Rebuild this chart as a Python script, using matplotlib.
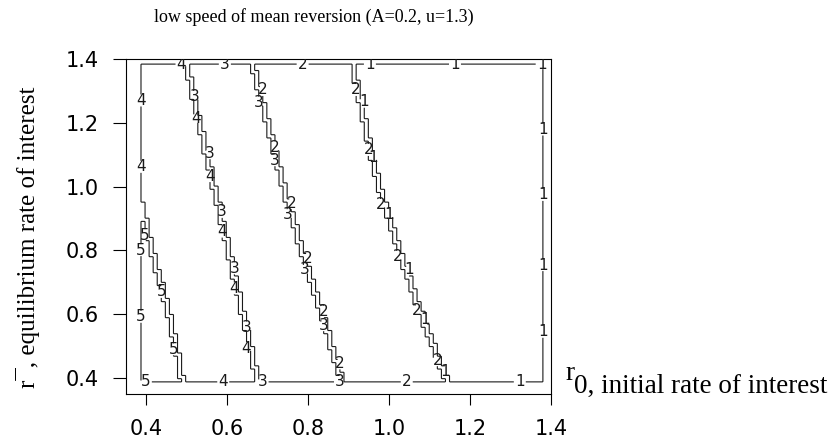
import numpy as np
import matplotlib
matplotlib.use("Agg")
import matplotlib.pyplot as plt

# region boundaries: r0 where the label steps down, at given r-bar
rbar_ref = [0.39, 0.60, 0.80, 1.00, 1.20, 1.384]
edge_4_3 = [0.677, 0.640, 0.604, 0.568, 0.532, 0.500]
edge_3_2 = [0.884, 0.835, 0.785, 0.740, 0.700, 0.664]
edge_2_1 = [1.143, 1.080, 1.025, 0.975, 0.940, 0.911]
rbar_ref5 = [0.388, 0.60, 0.80, 0.95]
edge_5_4 = [0.491, 0.458, 0.415, 0.388]

levels = [1, 2, 3, 4, 5]
xticks = [0.4, 0.6, 0.8, 1.0, 1.2, 1.4]
yticks = [0.4, 0.6, 0.8, 1.0, 1.2, 1.4]

# where R put the contour labels (layout only)
label_at = {
    1: [(0.953, 1.384), (1.163, 1.384), (1.377, 1.384), (1.379, 1.179), (1.379, 0.974),
        (1.379, 0.754), (1.379, 0.545), (0.935, 1.266), (0.957, 1.078), (0.990, 0.901),
        (1.042, 0.739), (1.093, 0.582), (1.146, 0.420), (1.323, 0.388)],
    2: [(0.787, 1.384), (0.683, 1.303), (0.716, 1.123), (0.751, 0.948), (0.793, 0.775),
        (0.834, 0.608), (0.883, 0.446), (0.916, 1.303), (0.937, 1.115), (0.970, 0.937),
        (1.019, 0.772), (1.068, 0.613), (1.122, 0.456), (1.044, 0.388)],
    3: [(0.595, 1.384), (0.521, 1.278), (0.556, 1.105), (0.587, 0.921), (0.622, 0.744),
        (0.649, 0.558), (0.688, 0.388), (0.686, 1.263), (0.716, 1.083), (0.750, 0.906),
        (0.793, 0.735), (0.830, 0.566), (0.883, 0.388)],
    4: [(0.488, 1.384), (0.387, 1.27), (0.387, 1.062), (0.523, 1.209), (0.556, 1.033),
        (0.593, 0.859), (0.624, 0.681), (0.649, 0.493), (0.591, 0.388)],
    5: [(0.402, 0.848), (0.435, 0.670), (0.467, 0.490), (0.387, 0.801), (0.387, 0.592),
        (0.400, 0.388)],
}

# evaluation grid
r0 = np.linspace(0.388, 1.38, 100)
rbar = np.linspace(0.388, 1.384, 100)
X, Y = np.meshgrid(r0, rbar)
z = (1 + (X < np.interp(Y, rbar_ref, edge_2_1))
       + (X < np.interp(Y, rbar_ref, edge_3_2))
       + (X < np.interp(Y, rbar_ref, edge_4_3))
       + (X < np.interp(Y, rbar_ref5, edge_5_4, right=0.0)))

# R draws level k along grid edges joining k-valued nodes -> outline of cells that are all k
m = 4
dx = r0[1] - r0[0]
dy = rbar[1] - rbar[0]
xs = r0[0] + (np.arange(m * (len(r0) - 1)) + 0.5) * dx / m
ys = rbar[0] + (np.arange(m * (len(rbar) - 1)) + 0.5) * dy / m
xs = np.concatenate([[xs[0] - dx / m], xs, [xs[-1] + dx / m]])
ys = np.concatenate([[ys[0] - dy / m], ys, [ys[-1] + dy / m]])

fig = plt.figure(figsize=(8.35, 4.4), dpi=100)
ax = fig.add_axes([126 / 835, 46 / 440, 425 / 835, 335 / 440])

for k in levels:
    full = (z[:-1, :-1] == k) & (z[1:, :-1] == k) & (z[:-1, 1:] == k) & (z[1:, 1:] == k)
    F = np.kron(full.astype(float), np.ones((m, m)))
    F = np.pad(F, 1)
    cs = ax.contour(xs, ys, F, levels=[0.5], colors="#1a1a1a", linewidths=0.8)
    txts = ax.clabel(cs, fmt=lambda v, k=k: str(k), manual=label_at[k], inline=True,
                     inline_spacing=1.5, fontsize=11)
    for t in txts:
        t.set_rotation(0)
        t.set_family("DejaVu Sans")

ax.set_xlim(0.351, 1.40)
ax.set_ylim(0.35, 1.40)
ax.set_xticks(xticks)
ax.set_yticks(yticks)
ax.set_xticklabels([f"{v:.1f}" for v in xticks])
ax.set_yticklabels([f"{v:.1f}" for v in yticks])
ax.tick_params(axis="x", length=8, width=0.8, pad=10, labelsize=15)
ax.tick_params(axis="y", length=9.5, width=0.8, pad=10, labelsize=15)
for lab in ax.get_xticklabels() + ax.get_yticklabels():
    lab.set_family("DejaVu Sans")
for s in ax.spines.values():
    s.set_linewidth(0.8)

serif = "Liberation Serif"
fig.text(154 / 835, 1 - 17 / 440, "low speed of mean reversion (A=0.2, u=1.3)",
         ha="left", va="center", family=serif, fontsize=13)
fig.text(28 / 835, 1 - 237 / 440, "r\u00af, equilibrium rate of interest",
         rotation=90, ha="center", va="center", family=serif, fontsize=18)
fig.text(574 / 835, 1 - 393 / 440, "0, initial rate of interest",
         ha="left", va="baseline", family=serif, fontsize=19.5)
fig.text(574 / 835, 1 - 380 / 440, "r", ha="right", va="baseline", family=serif, fontsize=19.5)

fig.savefig("out.png", dpi=100)
